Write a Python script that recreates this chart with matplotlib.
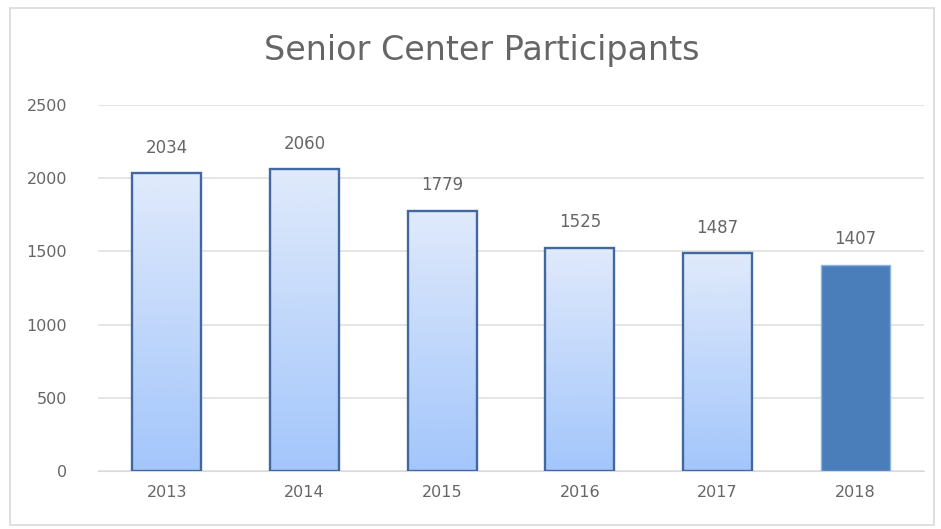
import matplotlib.pyplot as plt
import numpy as np
from matplotlib.patches import Rectangle
from matplotlib.colors import LinearSegmentedColormap

years = ["2013", "2014", "2015", "2016", "2017", "2018"]
participants = [2034, 2060, 1779, 1525, 1487, 1407]
y_ticks = [0, 500, 1000, 1500, 2000, 2500]

fig = plt.figure(figsize=(9.41, 5.29), dpi=100)
ax = fig.add_axes([0.104, 0.1096, 0.878, 0.692])

# outer chart border
fig.patches.append(Rectangle((0.011, 0.008), 0.982, 0.977, transform=fig.transFigure,
                             fill=False, edgecolor="#d9d9d9", linewidth=1.2))

x = np.arange(len(years))
bars = ax.bar(x, participants, width=0.5, zorder=3)

# vertical gradient for all bars except the last
grad = np.linspace(0, 1, 256).reshape(-1, 1)
cmap = LinearSegmentedColormap.from_list("bluegrad", ["#a3c6fb", "#e0eafb"])
for i, b in enumerate(bars):
    if i == len(bars) - 1:
        b.set_facecolor("#4a7ebb")
        b.set_edgecolor("#8fb4e3")
        b.set_linewidth(1.0)
        continue
    b.set_facecolor("none")
    b.set_edgecolor("#41699f")
    b.set_linewidth(1.7)
    b.set_zorder(4)
    bx, by = b.get_x(), b.get_y()
    im = ax.imshow(grad, cmap=cmap, aspect="auto", origin="lower",
                   extent=[bx, bx + b.get_width(), by, by + b.get_height()], zorder=3)
    im.set_clip_path(b)

for xi, v in zip(x, participants):
    ax.annotate(str(v), (xi, v), xytext=(0, 12), textcoords="offset points",
                ha="center", va="bottom", fontsize=12, color="#666666")

ax.set_xlim(-0.5, len(years) - 0.5)
ax.set_ylim(0, 2500)
ax.set_xticks(x)
ax.set_xticklabels(years)
ax.set_yticks(y_ticks)
ax.tick_params(axis="both", length=0, labelsize=11.5, colors="#666666")
ax.tick_params(axis="y", pad=22)
ax.tick_params(axis="x", pad=10)
ax.grid(axis="y", color="#dedede", linewidth=1.1, zorder=0)
for s in ax.spines.values():
    s.set_visible(False)
ax.spines["bottom"].set_visible(True)
ax.spines["bottom"].set_color("#d9d9d9")

fig.text(0.512, 0.905, "Senior Center Participants", ha="center", va="center",
         fontsize=24, color="#666666")

plt.savefig("out.png", dpi=100)
